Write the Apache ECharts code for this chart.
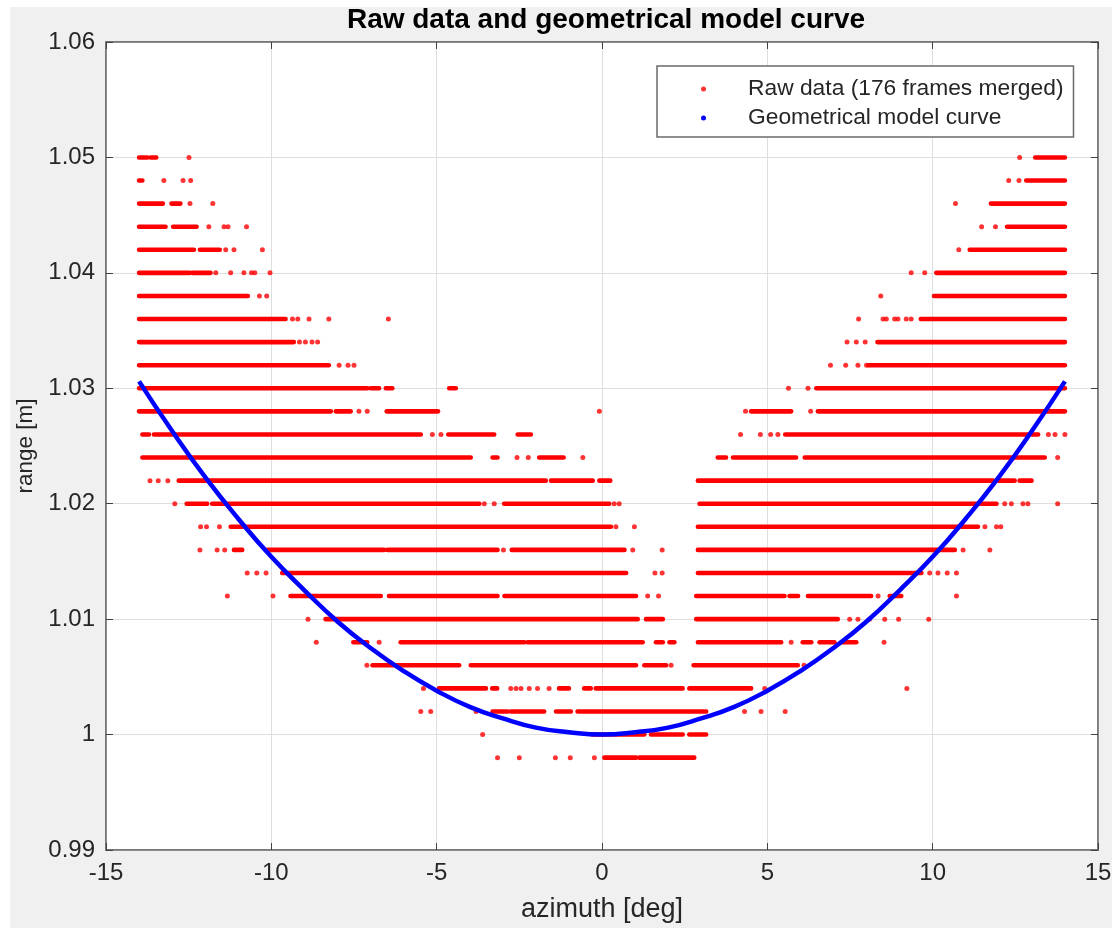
<!DOCTYPE html>
<html>
<head>
<meta charset="utf-8">
<script src="https://cdn.jsdelivr.net/npm/echarts@6/dist/echarts.min.js"></script>
<style>
  html, body { margin: 0; padding: 0; background: #ffffff; }
  #chart { position: absolute; left: 10px; top: 7px; width: 1102px; height: 921px; background: #f0f0f0; }
</style>
</head>
<body>
<div id="chart"></div>
<script>
// ---------------- data ----------------
const titleText = 'Raw data and geometrical model curve';
const xAxisName = 'azimuth [deg]';
const yAxisName = 'range [m]';
const rawName = 'Raw data (176 frames merged)';
const modelName = 'Geometrical model curve';

const xTickLabels = [-15, -10, -5, 0, 5, 10, 15];
const yTickLabels = [0.99, 1.00, 1.01, 1.02, 1.03, 1.04, 1.05, 1.06];

// quantized range levels of the raw data [m]
const rangeLevels = [1.050, 1.048, 1.046, 1.044, 1.042, 1.040, 1.038, 1.036, 1.034, 1.032,
  1.030, 1.028, 1.026, 1.024, 1.022, 1.020, 1.018, 1.016, 1.014, 1.012,
  1.010, 1.008, 1.006, 1.004, 1.002, 1.000, 0.998];

// dense runs of raw points per level: [azimuth start, azimuth end] in deg
const rawRuns = [
  [[-14.0,-13.75],[-13.65,-13.48],[13.1,14.0]],
  [[-14.0,-13.9],[12.83,14.0]],
  [[-14.0,-13.28],[-13.02,-12.75],[11.76,14.0]],
  [[-14.0,-13.2],[-12.97,-12.26],[12.25,14.0]],
  [[-14.0,-12.34],[-12.16,-11.56],[11.12,14.0]],
  [[-14.0,-12.46],[-12.39,-11.84],[10.11,14.0]],
  [[-14.0,-10.71],[10.04,14.0]],
  [[-14.0,-9.57],[9.64,14.0]],
  [[-14.0,-9.32],[8.33,14.0]],
  [[-14.0,-8.26],[8.06,14.0]],
  [[-14.0,-7.1],[-7.0,-6.74],[-6.54,-6.34],[-4.62,-4.42],[6.48,14.0]],
  [[-14.0,-8.2],[-8.05,-7.6],[-6.51,-4.96],[4.51,5.72],[6.53,14.0]],
  [[-13.9,-13.7],[-13.55,-5.48],[-4.65,-3.26],[-2.55,-2.15],[5.54,13.19]],
  [[-13.9,-3.97],[-3.31,-3.16],[-1.9,-1.16],[3.5,3.75],[3.96,5.87],[6.13,13.39]],
  [[-12.8,-1.7],[-1.54,-0.28],[-0.08,0.25],[2.9,11.83],[11.98,12.48],[12.63,12.99]],
  [[-12.56,-11.94],[-11.79,-3.71],[-2.96,0.22],[2.95,11.93]],
  [[-11.23,0.27],[2.9,11.37]],
  [[-11.13,-10.88],[-10.12,-6.59],[-6.49,-3.16],[-2.73,0.68],[2.9,10.67]],
  [[-9.67,0.73],[2.9,9.66]],
  [[-9.42,-6.69],[-6.44,-3.16],[-2.95,1.03],[2.85,5.52],[5.67,5.93],[6.23,8.14],[8.7,9.05]],
  [[-8.36,1.08],[1.33,1.84],[2.85,7.13]],
  [[-7.52,-7.1],[-6.09,-2.35],[-2.25,1.23],[1.63,1.84],[2.04,2.19],[2.9,5.42],[6.07,6.33],[6.58,7.03],[7.24,7.69]],
  [[-6.94,-4.32],[-3.97,1.03],[1.28,1.94],[2.77,5.92]],
  [[-4.93,-3.51],[-3.32,-3.17],[-1.3,-1.0],[-0.54,-0.34],[-0.19,2.44],[2.64,4.51]],
  [[-3.31,-2.85],[-2.76,-1.75],[-1.39,-0.94],[-0.74,3.15]],
  [[-0.3,1.28],[1.48,2.44],[2.64,3.15]],
  [[0.07,1.03],[1.13,2.79]]
];

// isolated raw points per level: azimuth in deg
const rawDots = [
  [-12.49,12.63],
  [-13.25,-12.67,-12.44,12.3,12.61],
  [-12.46,-11.77,10.69],
  [-11.89,-11.43,-11.31,-10.75,11.48,11.9],
  [-11.38,-11.13,-10.27,10.79],
  [-11.68,-11.23,-10.83,-10.6,-10.5,-10.04,9.35,9.76],
  [-10.36,-10.14,8.43],
  [-9.36,-9.2,-8.86,-8.26,-6.46,7.76,8.5,8.6,8.85,8.95,9.2,9.35],
  [-9.15,-8.97,-8.77,-8.6,7.41,7.69,7.96],
  [-7.95,-7.68,-7.5,6.91,7.37,7.74,8.0],
  [5.64,6.23],
  [-7.35,-7.1,-0.08,4.34,6.31],
  [-5.13,-4.87,4.19,4.79,5.1,5.32,13.5,13.7,14.0],
  [-2.57,-2.23,-0.58,13.78],
  [-13.67,-13.42,-13.13],
  [-12.92,-3.56,-3.26,0.37,0.52,12.18,12.38,12.73,12.88,13.78],
  [-12.14,-11.96,-11.57,0.42,0.98,11.58,11.93,12.06],
  [-12.16,-11.64,-11.41,-2.98,0.93,1.82,10.92,11.73],
  [-10.73,-10.44,-10.16,1.6,1.82,9.91,10.16,10.44,10.72],
  [-11.33,-9.95,1.38,1.71,8.35,10.72],
  [-8.89,7.49,7.74,8.09,8.55,8.97,9.88],
  [-8.64,-6.74,5.72,8.53],
  [-7.11,2.09,6.11],
  [-5.4,-2.76,-2.6,-2.45,-2.2,-1.95,-1.6,4.92,9.22],
  [-5.48,-5.18,-3.81,4.31,4.81,5.54],
  [-3.61],
  [-3.16,-2.5,-1.41,-0.96,-0.23]
];

// geometrical model curve
const curveAzimuth = [-14,-13,-12,-11,-10,-9,-8,-7,-6,-5,-4,-3,-2,-1,0,1,2,3,4,5,6,7,8,9,10,11,12,13,14];
const curveRange = [1.0306,1.0263,1.0223,1.0187,1.0154,1.0125,1.0098,1.0075,1.0055,1.0038,1.0024,1.0014,1.0006,1.0002,1.0000,
  1.0002,1.0006,1.0014,1.0024,1.0038,1.0055,1.0075,1.0098,1.0125,1.0154,1.0187,1.0223,1.0263,1.0306];

// ---------------- build series data ----------------
const runData = [];
rangeLevels.forEach((lv, i) => rawRuns[i].forEach(r => runData.push([r[0], r[1], lv])));
const dotData = [];
rangeLevels.forEach((lv, i) => rawDots[i].forEach(a => dotData.push([a, lv])));
const curveData = curveAzimuth.map((a, i) => [a, curveRange[i]]);

const FONT = "'Liberation Sans', Arial, Helvetica, sans-serif";
const TXT = '#262626';
const fmtY = v => String(parseFloat(Number(v).toFixed(2)));

const chart = echarts.init(document.getElementById('chart'), null, { renderer: 'canvas' });

const axisBase = {
  axisLine: { show: true, onZero: false, lineStyle: { color: '#707070', width: 1.5 } },
  axisTick: { show: true, inside: true, length: 7, lineStyle: { color: '#404040', width: 1 } }
};

chart.setOption({
  backgroundColor: '#f0f0f0',
  animation: false,
  title: {
    text: titleText,
    left: 591, top: -6,
    textAlign: 'center',
    textStyle: { fontFamily: FONT, fontSize: 28, fontWeight: 'bold', color: '#000' }
  },
  legend: {
    left: 647, top: 59,
    orient: 'vertical',
    backgroundColor: '#ffffff',
    borderColor: '#6a6a6a',
    borderWidth: 1.5,
    borderRadius: 0,
    padding: [11, 10, 7, 44],
    itemWidth: 5, itemHeight: 5,
    itemGap: 5,
    selectedMode: false,
    textStyle: { fontFamily: FONT, fontSize: 22.8, color: TXT, lineHeight: 24, padding: [0, 0, 0, 37] },
    data: [
      { name: rawName, icon: 'circle', itemStyle: { color: '#ff0000' } },
      { name: modelName, icon: 'circle', itemStyle: { color: '#0000ff' } }
    ]
  },
  grid: {
    left: 96, top: 35, right: 14, bottom: 78,
    outerBoundsMode: 'none', containLabel: false,
    show: true, backgroundColor: '#ffffff', borderColor: '#707070', borderWidth: 1.5
  },
  xAxis: [
    Object.assign({}, axisBase, {
      type: 'value', position: 'bottom',
      min: xTickLabels[0], max: xTickLabels[xTickLabels.length - 1], interval: 5,
      name: xAxisName, nameLocation: 'middle', nameGap: 46,
      nameTextStyle: { fontFamily: FONT, fontSize: 27, color: TXT },
      axisLabel: { fontFamily: FONT, fontSize: 24, color: TXT, margin: 11 },
      splitLine: { show: true, lineStyle: { color: '#dedede', width: 1 } }
    }),
    Object.assign({}, axisBase, {
      type: 'value', position: 'top',
      min: xTickLabels[0], max: xTickLabels[xTickLabels.length - 1], interval: 5,
      axisLabel: { show: false }, splitLine: { show: false }
    })
  ],
  yAxis: [
    Object.assign({}, axisBase, {
      type: 'value', position: 'left',
      min: yTickLabels[0], max: yTickLabels[yTickLabels.length - 1], interval: 0.01,
      name: yAxisName, nameLocation: 'middle', nameGap: 62,
      nameTextStyle: { fontFamily: FONT, fontSize: 22.5, color: TXT },
      axisLabel: { fontFamily: FONT, fontSize: 24, color: TXT, margin: 11, formatter: fmtY },
      splitLine: { show: true, lineStyle: { color: '#dedede', width: 1 } }
    }),
    Object.assign({}, axisBase, {
      type: 'value', position: 'right',
      min: yTickLabels[0], max: yTickLabels[yTickLabels.length - 1], interval: 0.01,
      axisLabel: { show: false }, splitLine: { show: false }
    })
  ],
  series: [
    {
      name: rawName, type: 'scatter', xAxisIndex: 0, yAxisIndex: 0,
      data: dotData, symbol: 'circle', symbolSize: 5,
      itemStyle: { color: '#ff0000' }, z: 2, silent: true
    },
    {
      name: rawName, type: 'custom', xAxisIndex: 0, yAxisIndex: 0,
      data: runData, encode: { x: [0, 1], y: 2 }, z: 2, silent: true,
      itemStyle: { color: '#ff0000' },
      renderItem: function (params, api) {
        const p0 = api.coord([api.value(0), api.value(2)]);
        const p1 = api.coord([api.value(1), api.value(2)]);
        const h = 4.6;
        return {
          type: 'rect',
          shape: { x: p0[0] - h / 2, y: p0[1] - h / 2, width: p1[0] - p0[0] + h, height: h, r: h / 2 },
          style: { fill: '#ff0000' }
        };
      }
    },
    {
      name: modelName, type: 'line', xAxisIndex: 0, yAxisIndex: 0,
      data: curveData, smooth: true, showSymbol: false, symbol: 'circle',
      lineStyle: { color: '#0000ff', width: 4.5 },
      itemStyle: { color: '#0000ff' }, z: 5, silent: true
    }
  ]
});
</script>
</body>
</html>
